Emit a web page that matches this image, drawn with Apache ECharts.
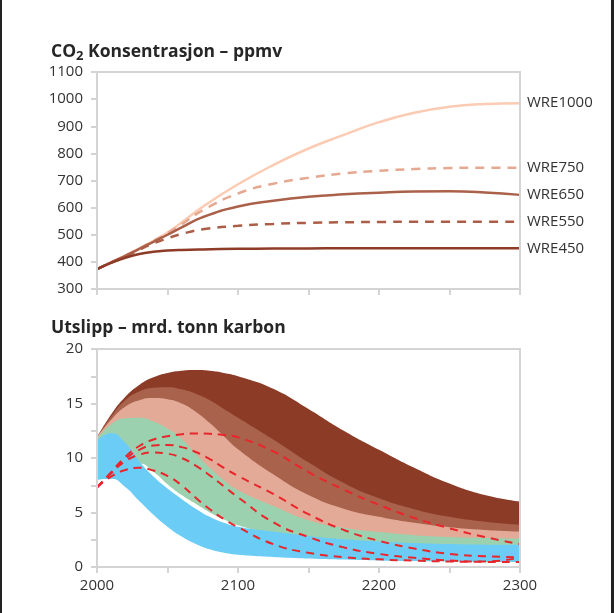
<!DOCTYPE html>
<html><head><meta charset="utf-8">
<script src="https://cdn.jsdelivr.net/npm/echarts@6/dist/echarts.min.js"></script>
<style>html,body{margin:0;padding:0;background:#fff}#c{width:614px;height:613px}</style>
</head><body><div id="c"></div>
<script>
// ---- CO2 concentration (ppmv) ----
const concYears = [2000,2010,2020,2030,2040,2050,2060,2075,2100,2125,2150,2175,2200,2225,2250,2275,2300];
const wre450  = [373,396,415,429,437,441.5,444,446,448,449,449.5,450,450,450,450,450,450];
const wre550  = [373,397,420,445,468,487,503,520,533,540,544,546,547,548,548,548,548];
const wre650  = [373,398,422,448,474,500,527,565,604,625,640,649,655,659,660,656,647];
const wre750  = [373,398,423,449,477,506,538,590,652,688,710,726,736,742,746,747,747];
const wre1000 = [373,398,423,450,478,508,545,603,686,757,818,868,915,950,972,982,985];
const concTicks = [300,400,500,600,700,800,900,1000,1100];

// ---- Emissions (GtC) ----
const emisYears = [2000,2010,2020,2030,2040,2050,2060,2070,2080,2090,2100,2125,2150,2175,2200,2225,2250,2275,2300];
const top1000 = [11.9,14.0,15.6,16.7,17.4,17.8,18.0,18.07,18.0,17.8,17.5,16.35,14.5,12.5,10.75,9.1,7.65,6.6,6.0];
const top750  = [11.9,13.8,15.3,16.1,16.45,16.5,16.3,15.9,15.3,14.5,13.7,11.7,9.6,7.7,6.3,5.3,4.6,4.15,3.87];
const top650  = [11.9,13.5,14.7,15.3,15.5,15.4,15.0,14.25,13.2,12.0,10.8,8.5,6.6,5.35,4.6,4.05,3.65,3.4,3.25];
const top550  = [11.8,13.1,13.65,13.7,13.35,12.7,11.75,10.4,9.1,7.95,7.05,5.6,4.3,3.6,3.2,2.92,2.75,2.65,2.6];
const low550  = [7.5,8.0,8.7,9.5,8.75,7.6,6.6,5.8,5.0,4.35,3.82,3.0,2.5,2.2,2.0,1.9,1.8,1.8,1.8];
const top450  = [11.6,12.3,11.4,9.7,8.3,7.2,6.25,5.35,4.6,4.05,3.7,3.25,2.85,2.55,2.35,2.2,2.1,2.05,2.05];
const low450  = [8.0,8.1,7.35,6.05,4.8,3.7,2.8,2.12,1.62,1.3,1.12,0.92,0.78,0.68,0.6,0.54,0.5,0.47,0.45];
const pathA = [7.3,8.7,10.1,11.1,11.7,12.0,12.17,12.25,12.22,12.1,11.9,10.6,8.7,7.1,5.7,4.5,3.55,2.75,2.1];
const pathB = [7.3,8.6,9.9,10.75,11.15,11.2,11.0,10.55,9.9,9.1,8.35,6.7,4.85,3.4,2.4,1.7,1.2,0.98,0.9];
const pathC = [7.3,8.6,9.7,10.3,10.5,10.4,10.0,9.3,8.4,7.4,6.4,4.1,2.75,1.8,1.2,0.85,0.6,0.5,0.85];
const pathD = [7.3,8.3,8.9,9.1,8.85,8.35,7.5,6.35,5.3,4.4,3.65,2.1,1.3,0.9,0.7,0.58,0.5,0.47,0.45];

const FONT = 'Open Sans';
const AX = '#d4d4d4';
const TXT = '#333333';
const SMOOTH = 0.5;
const pairs = (xs, ys) => xs.map((x, i) => [x, ys[i]]);

const chart = echarts.init(document.getElementById('c'));

function concLine(name, data, color, dashed) {
  return {
    type: 'line', name, xAxisIndex: 0, yAxisIndex: 0, smooth: SMOOTH, symbol: 'none',
    data: pairs(concYears, data),
    lineStyle: { color, width: 2.5, type: dashed ? [9, 7] : 'solid' },
    endLabel: { show: true, formatter: '{a}', color: TXT, fontSize: 15, fontFamily: FONT, distance: 7 },
    z: 3
  };
}
function area(name, data, color, z) {
  return {
    type: 'line', name, xAxisIndex: 1, yAxisIndex: 1, smooth: SMOOTH, symbol: 'none',
    data: pairs(emisYears, data), lineStyle: { width: 0 },
    areaStyle: { color, opacity: 1 }, z, silent: true
  };
}
function path(name, data) {
  return {
    type: 'line', name, xAxisIndex: 1, yAxisIndex: 1, smooth: SMOOTH, symbol: 'none',
    data: pairs(emisYears, data),
    lineStyle: { color: '#e8262b', width: 2, type: [8, 6] }, z: 4
  };
}

const xCommon = {
  type: 'value', min: 2000, max: 2300, interval: 50, z: 10,
  axisLine: { show: true, lineStyle: { color: AX, width: 2 } },
  axisTick: { show: true, length: 6, lineStyle: { color: AX, width: 2 } },
  splitLine: { show: false }
};
const yCommon = {
  type: 'value', z: 10,
  axisLine: { show: true, lineStyle: { color: AX, width: 2 } },
  axisTick: { show: true, length: 6, lineStyle: { color: AX, width: 2 } },
  splitLine: { show: false }
};

chart.setOption({
  backgroundColor: '#ffffff',
  animation: false,
  title: [
    { text: '{b|CO}{s|2}{b| Konsentrasjon – ppmv}', left: 46, top: 36,
      textStyle: { rich: {
        b: { fontFamily: FONT, fontWeight: 'bold', fontSize: 17.5, color: '#262626', lineHeight: 22 },
        s: { fontFamily: FONT, fontWeight: 'bold', fontSize: 13, color: '#262626', lineHeight: 14, verticalAlign: 'bottom' }
      } } },
    { text: 'Utslipp – mrd. tonn karbon', left: 46, top: 312,
      textStyle: { fontFamily: FONT, fontWeight: 'bold', fontSize: 17.5, color: '#262626', lineHeight: 22 } }
  ],
  grid: [
    { left: 97, right: 94, top: 72, height: 217, show: true, borderColor: AX, borderWidth: 2, z: 5, backgroundColor: 'transparent' },
    { left: 97, right: 94, top: 349, height: 218, show: true, borderColor: AX, borderWidth: 2, z: 5, backgroundColor: 'transparent' }
  ],
  xAxis: [
    Object.assign({}, xCommon, { gridIndex: 0, axisLabel: { show: false } }),
    Object.assign({}, xCommon, { gridIndex: 1, axisLabel: { show: true, fontFamily: FONT, fontSize: 15, color: TXT, margin: 11,
      formatter: v => (v % 100 === 0 ? String(v) : '') } })
  ],
  yAxis: [
    Object.assign({}, yCommon, { gridIndex: 0, min: concTicks[0], max: concTicks[concTicks.length - 1], interval: 100,
      axisLabel: { fontFamily: FONT, fontSize: 15, color: TXT, margin: 14, formatter: v => String(v) } }),
    Object.assign({}, yCommon, { gridIndex: 1, min: 0, max: 20, interval: 2.5,
      axisLabel: { fontFamily: FONT, fontSize: 15, color: TXT, margin: 14, formatter: v => (v % 5 === 0 ? String(v) : '') } })
  ],
  graphic: [
    { type: 'rect', shape: { x: 0, y: 0, width: 2, height: 613 }, style: { fill: '#222' }, z: 100 },
    { type: 'rect', shape: { x: 611, y: 0, width: 3, height: 613 }, style: { fill: '#222' }, z: 100 }
  ],
  series: [
    concLine('WRE1000', wre1000, '#fbcbb3', false),
    concLine('WRE750', wre750, '#e5a991', true),
    concLine('WRE650', wre650, '#ab604a', false),
    concLine('WRE550', wre550, '#ab5d47', true),
    concLine('WRE450', wre450, '#8e3b27', false),
    area('1000', top1000, '#8c3b27', 2),
    area('750', top750, '#a9624c', 2),
    area('650', top650, '#e3ab97', 2),
    area('550', top550, '#9bd1ae', 2),
    area('550low', low550, '#ffffff', 2),
    area('450', top450, '#6bcdf5', 2),
    area('450low', low450, '#ffffff', 2),
    path('A', pathA), path('B', pathB), path('C', pathC), path('D', pathD)
  ]
});
</script></body></html>
